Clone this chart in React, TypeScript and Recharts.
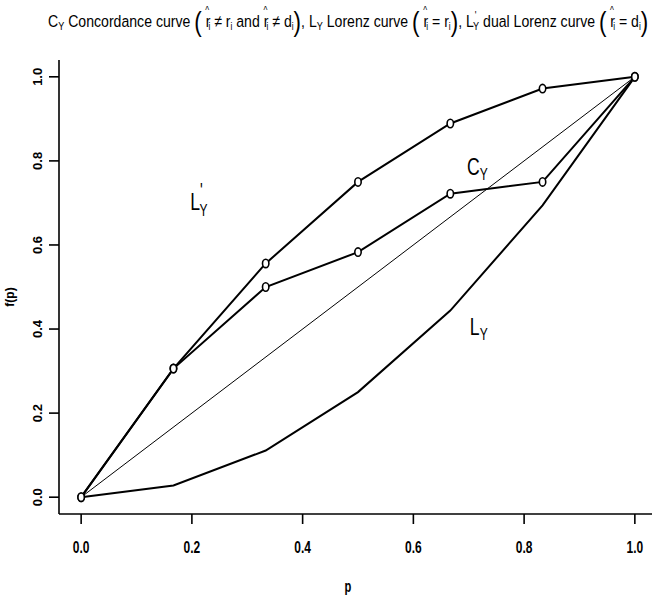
import React from 'react';
import { LineChart, Line, XAxis, YAxis, ReferenceDot } from 'recharts';

const pValues = [0, 0.1667, 0.3333, 0.5, 0.6667, 0.8333, 1];
const dualLorenz = [0, 0.306, 0.556, 0.75, 0.889, 0.972, 1];
const concordance = [0, 0.306, 0.5, 0.583, 0.722, 0.75, 1];
const lorenz = [0, 0.028, 0.111, 0.25, 0.444, 0.694, 1];
const equality = [0, null, null, null, null, null, 1];
const xTicks = [0, 0.2, 0.4, 0.6, 0.8, 1];
const yTicks = [0, 0.2, 0.4, 0.6, 0.8, 1];

const curveLabels = [
  { id: 'dual', p: 0.197, f: 0.683, main: 'L', sub: 'Y', prime: true },
  { id: 'conc', p: 0.697, f: 0.767, main: 'C', sub: 'Y', prime: false },
  { id: 'lor', p: 0.702, f: 0.386, main: 'L', sub: 'Y', prime: false },
];

const data = pValues.map((p, i) => ({
  p,
  dual: dualLorenz[i],
  conc: concordance[i],
  lor: lorenz[i],
  eq: equality[i],
}));

const FONT = "'Liberation Sans', Arial, sans-serif";
const NARROW = 0.8;

const OpenDot = ({ cx, cy }: any) => {
  if (cx == null || cy == null) return null;
  return <ellipse cx={cx} cy={cy} rx={3.2} ry={4.2} fill="#fff" stroke="#000" strokeWidth={1.6} />;
};

const XTick = ({ x, y, payload }: any) => (
  <text
    transform={`translate(${x}, ${y + 27}) scale(${NARROW}, 1.15)`}
    textAnchor="middle"
    fontFamily={FONT}
    fontWeight="bold"
    fontSize={15}
    fill="#000"
  >
    {payload.value.toFixed(1)}
  </text>
);

const YTick = ({ y, payload }: any) => (
  <text
    x={42}
    y={y}
    textAnchor="middle"
    transform={`rotate(-90, 42, ${y})`}
    fontFamily={FONT}
    fontWeight="bold"
    fontSize={13}
    fill="#000"
  >
    {payload.value.toFixed(1)}
  </text>
);

const CurveLabel = ({ cx, cy, main, sub, prime }: any) => (
  <text transform={`translate(${cx}, ${cy}) scale(${NARROW}, 1.1)`} fontFamily={FONT} fontSize={22} fill="#000">
    {main}
    {prime ? (
      <>
        <tspan fontSize={18} dy={-12} dx={0}>'</tspan>
        <tspan fontSize={15} dy={17} dx={-4}>{sub}</tspan>
      </>
    ) : (
      <tspan fontSize={15} dy={5}>{sub}</tspan>
    )}
  </text>
);

const HatR = () => (
  <>
    <tspan>r</tspan>
    <tspan fontSize={10} dx={-6} dy={-13}>^</tspan>
    <tspan fontSize={10} dx={-1} dy={16}>i</tspan>
    <tspan dy={-3}> </tspan>
  </>
);

const Title = () => {
  const ref = React.useRef<SVGTextElement>(null);
  const [sx, setSx] = React.useState(0.75);
  React.useLayoutEffect(() => {
    if (ref.current) {
      const w = ref.current.getBBox().width;
      if (w > 0) setSx(600 / w);
    }
  }, []);
  return (
    <g transform={`translate(48, 27) scale(${sx}, 1)`}>
      <text ref={ref} x={0} y={0} fontFamily={FONT} fontSize={17} fill="#000">
        <tspan>C</tspan>
        <tspan fontSize={11} dy={3}>Y</tspan>
        <tspan dy={-3}> Concordance curve  </tspan>
        <tspan fontSize={27} dy={4}>(</tspan>
        <tspan dy={-4}> </tspan>
        <HatR />
        <tspan>≠ r</tspan>
        <tspan fontSize={10} dy={3}>i</tspan>
        <tspan dy={-3}> and </tspan>
        <HatR />
        <tspan>≠ d</tspan>
        <tspan fontSize={10} dy={3}>i</tspan>
        <tspan fontSize={27} dy={1}>)</tspan>
        <tspan dy={-4}>,  L</tspan>
        <tspan fontSize={11} dy={3}>Y</tspan>
        <tspan dy={-3}> Lorenz curve  </tspan>
        <tspan fontSize={27} dy={4}>(</tspan>
        <tspan dy={-4}> </tspan>
        <HatR />
        <tspan>= r</tspan>
        <tspan fontSize={10} dy={3}>i</tspan>
        <tspan fontSize={27} dy={1}>)</tspan>
        <tspan dy={-4}>,  L</tspan>
        <tspan fontSize={11} dx={1} dy={-8}>'</tspan>
        <tspan fontSize={11} dx={-4} dy={11}>Y</tspan>
        <tspan dy={-3}> dual Lorenz curve  </tspan>
        <tspan fontSize={27} dy={4}>(</tspan>
        <tspan dy={-4}> </tspan>
        <HatR />
        <tspan>= d</tspan>
        <tspan fontSize={10} dy={3}>i</tspan>
        <tspan fontSize={27} dy={1}>)</tspan>
      </text>
    </g>
  );
};

export default function App() {
  return (
    <div style={{ position: 'absolute', left: 0, top: 0, width: 652, height: 599, overflow: 'hidden', background: '#fff' }}>
      <LineChart width={657} height={599} data={data} margin={{ top: 60, right: 0, bottom: 0, left: 0 }}>
        <XAxis
          dataKey="p"
          type="number"
          domain={[-0.04, 1.04]}
          ticks={xTicks}
          allowDataOverflow
          height={85}
          tickSize={10}
          tickMargin={2}
          tick={<XTick />}
          axisLine={{ stroke: '#000', strokeWidth: 1.6 }}
          tickLine={{ stroke: '#000', strokeWidth: 1.6 }}
        />
        <XAxis
          xAxisId="top"
          orientation="top"
          dataKey="p"
          type="number"
          domain={[-0.04, 1.04]}
          allowDataOverflow
          height={0}
          tick={false}
          tickLine={false}
          axisLine={{ stroke: '#000', strokeWidth: 1.6 }}
        />
        <YAxis
          type="number"
          domain={[-0.04, 1.04]}
          ticks={yTicks}
          allowDataOverflow
          width={59}
          tickSize={10}
          tick={<YTick />}
          axisLine={{ stroke: '#000', strokeWidth: 1.6 }}
          tickLine={{ stroke: '#000', strokeWidth: 1.6 }}
        />
        <Line dataKey="eq" type="linear" stroke="#000" strokeWidth={1} dot={false} connectNulls isAnimationActive={false} />
        <Line dataKey="lor" type="linear" stroke="#000" strokeWidth={2} dot={false} isAnimationActive={false} />
        <Line dataKey="conc" type="linear" stroke="#000" strokeWidth={2} dot={<OpenDot />} activeDot={false} isAnimationActive={false} />
        <Line dataKey="dual" type="linear" stroke="#000" strokeWidth={2} dot={<OpenDot />} activeDot={false} isAnimationActive={false} />
        {curveLabels.map((l) => (
          <ReferenceDot
            key={l.id}
            x={l.p}
            y={l.f}
            r={0}
            ifOverflow="visible"
            shape={(props: any) => <CurveLabel cx={props.cx} cy={props.cy} main={l.main} sub={l.sub} prime={l.prime} />}
          />
        ))}
      </LineChart>
      <svg width={652} height={599} style={{ position: 'absolute', left: 0, top: 0, pointerEvents: 'none' }}>
        <Title />
        <text
          transform={`translate(348, 592) scale(${NARROW}, 1.15)`}
          textAnchor="middle"
          fontFamily={FONT}
          fontWeight="bold"
          fontSize={14}
          fill="#000"
        >
          p
        </text>
        <text
          x={14}
          y={297}
          textAnchor="middle"
          transform="rotate(-90, 14, 297)"
          fontFamily={FONT}
          fontWeight="bold"
          fontSize={12}
          fill="#000"
        >
          f(p)
        </text>
      </svg>
    </div>
  );
}
